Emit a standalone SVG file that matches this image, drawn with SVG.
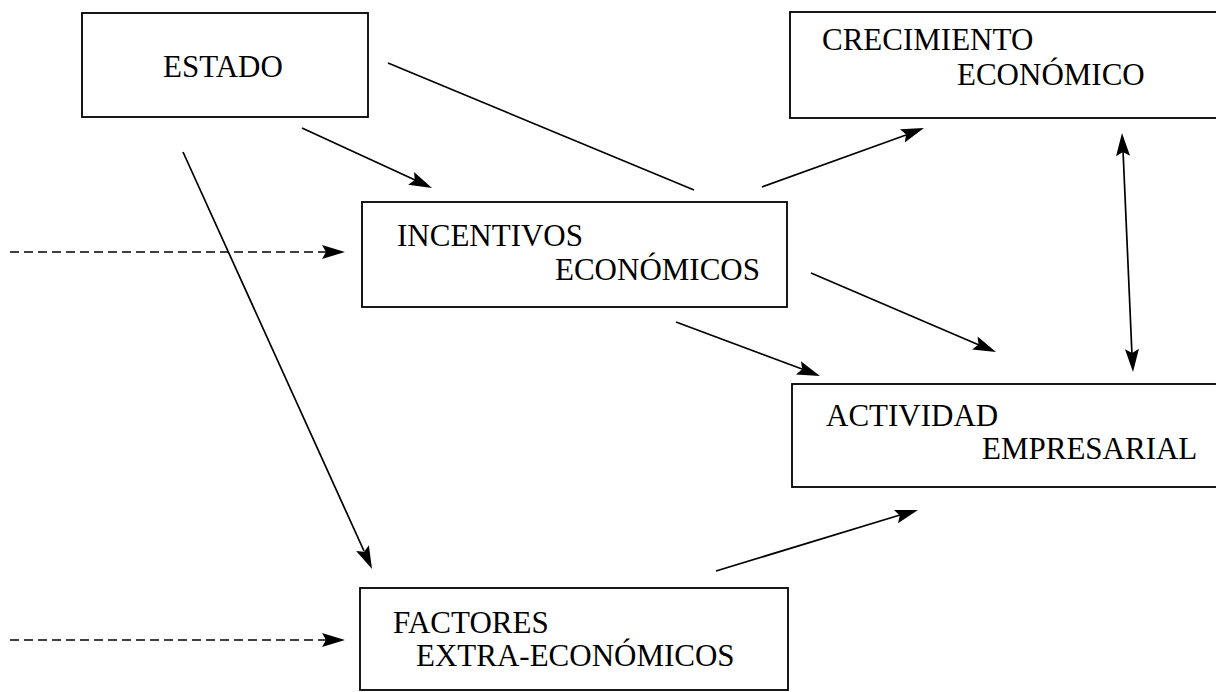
<svg xmlns="http://www.w3.org/2000/svg" width="1216" height="692" viewBox="0 0 1216 692">
<style>
.box{fill:#fff;stroke:#000;stroke-width:1.8}
.t{font-family:"Liberation Serif","Times New Roman",Times,serif;font-size:31px;fill:#000}
.c{stroke:#000;stroke-width:1.7;fill:none}
.d{stroke-dasharray:9 5}
.ah{fill:#000;stroke:none}
</style>
<rect width="1216" height="692" fill="#fff"/>
<g id="estado">
<rect class="box" x="82" y="13" width="286" height="104"/>
<text class="t" x="163" y="77">ESTADO</text>
</g>
<g id="crecimiento">
<rect class="box" x="790" y="12" width="440" height="106"/>
<text class="t" x="822" y="50">CRECIMIENTO</text>
<text class="t" x="957" y="85">ECONÓMICO</text>
</g>
<g id="incentivos">
<rect class="box" x="362" y="202" width="425" height="105"/>
<text class="t" x="397" y="246">INCENTIVOS</text>
<text class="t" x="555" y="280">ECONÓMICOS</text>
</g>
<g id="actividad">
<rect class="box" x="792" y="384" width="440" height="103"/>
<text class="t" x="826" y="426">ACTIVIDAD</text>
<text class="t" x="982" y="459">EMPRESARIAL</text>
</g>
<g id="factores">
<rect class="box" x="360" y="588" width="428" height="102"/>
<text class="t" x="393" y="633">FACTORES</text>
<text class="t" x="416" y="666">EXTRA-ECONÓMICOS</text>
</g>
<g id="connectors">
<line class="c" x1="388" y1="63" x2="694" y2="190"/>
<line class="c" x1="302" y1="128" x2="415" y2="180"/>
<line class="c" x1="183" y1="152" x2="364" y2="551"/>
<line class="c d" x1="10" y1="252" x2="326" y2="252"/>
<line class="c d" x1="10" y1="640" x2="326" y2="640"/>
<line class="c" x1="762" y1="187" x2="906" y2="135"/>
<line class="c" x1="811" y1="273" x2="979" y2="345"/>
<line class="c" x1="676" y1="322" x2="802" y2="369"/>
<line class="c" x1="1123" y1="150" x2="1132" y2="355"/>
<line class="c" x1="716" y1="571" x2="900" y2="515"/>
<g transform="translate(432,188) rotate(24.8)"><path class="ah" d="M0,0 L-23,-7 L-19,0 L-23,7 Z"/></g>
<g transform="translate(372,569) rotate(65.6)"><path class="ah" d="M0,0 L-23,-7 L-19,0 L-23,7 Z"/></g>
<g transform="translate(345,252)"><path class="ah" d="M0,0 L-23,-7 L-19,0 L-23,7 Z"/></g>
<g transform="translate(345,640)"><path class="ah" d="M0,0 L-23,-7 L-19,0 L-23,7 Z"/></g>
<g transform="translate(924,128) rotate(-20)"><path class="ah" d="M0,0 L-23,-7 L-19,0 L-23,7 Z"/></g>
<g transform="translate(996,352) rotate(23.1)"><path class="ah" d="M0,0 L-23,-7 L-19,0 L-23,7 Z"/></g>
<g transform="translate(820,376) rotate(20.6)"><path class="ah" d="M0,0 L-23,-7 L-19,0 L-23,7 Z"/></g>
<g transform="translate(1133,372) rotate(87.4)"><path class="ah" d="M0,0 L-23,-7 L-19,0 L-23,7 Z"/></g>
<g transform="translate(1122,133) rotate(-92.6)"><path class="ah" d="M0,0 L-23,-7 L-19,0 L-23,7 Z"/></g>
<g transform="translate(918,510) rotate(-16.8)"><path class="ah" d="M0,0 L-23,-7 L-19,0 L-23,7 Z"/></g>
</g>
</svg>
